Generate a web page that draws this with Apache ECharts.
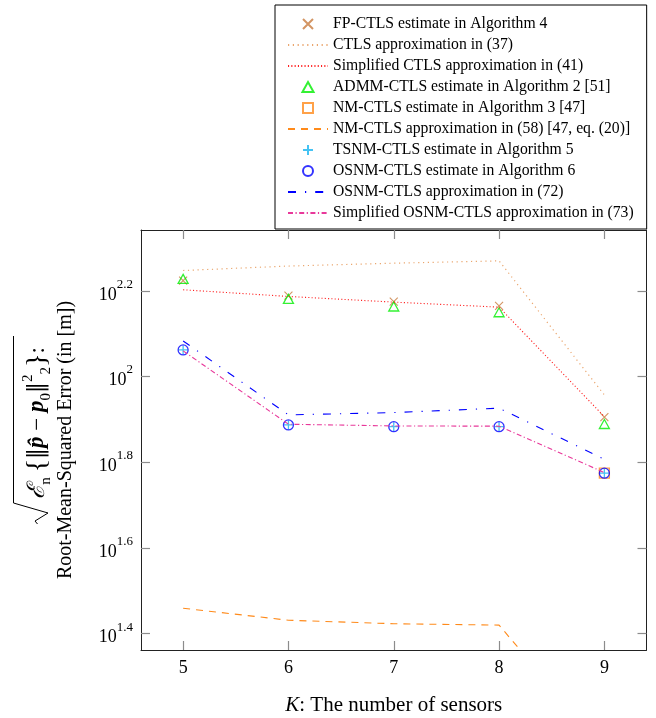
<!DOCTYPE html>
<html><head><meta charset="utf-8">
<script src="https://cdn.jsdelivr.net/npm/echarts@6/dist/echarts.min.js"></script>
<style>html,body{margin:0;padding:0;background:#fff}#c{width:656px;height:718px}</style>
</head><body><div id="c"></div>
<script>
// ---- data (RMSE in metres) ----
const sensors = [5, 6, 7, 8, 9];
const yTickExponents = [1.4, 1.6, 1.8, 2.0, 2.2];
const fpCtlsEstimate      = [167.5, 154.5, 149.6, 146.2, 80.4];
const ctlsApprox          = [176.8, 181.1, 183.9, 186.2, 90.6];
const simpCtlsApprox      = [159.4, 153.8, 149.2, 145.2, 80.6];
const admmCtlsEstimate    = [169.0, 151.8, 145.7, 141.3, 77.5];
const nmCtlsEstimate      = [null, null, null, null, 59.5];
const nmCtlsApprox        = [28.8, 27.0, 26.5, 26.3, 13.5];
const tsnmCtlsEstimate    = [115.4, 77.1, 76.4, 76.4, 59.5];
const osnmCtlsEstimate    = [115.4, 77.1, 76.4, 76.4, 59.5];
const osnmCtlsApprox      = [121.1, 81.4, 82.4, 84.4, 64.1];
const simpOsnmCtlsApprox  = [114.8, 77.4, 76.7, 76.6, 59.7];
const names = [
  'FP-CTLS estimate in Algorithm 4',
  'CTLS approximation in (37)',
  'Simplified CTLS approximation in (41)',
  'ADMM-CTLS estimate in Algorithm 2 [51]',
  'NM-CTLS estimate in Algorithm 3 [47]',
  'NM-CTLS approximation in (58) [47, eq. (20)]',
  'TSNM-CTLS estimate in Algorithm 5',
  'OSNM-CTLS estimate in Algorithm 6',
  'OSNM-CTLS approximation in (72)',
  'Simplified OSNM-CTLS approximation in (73)'
];
const lineSeriesIdx = [1, 2, 5, 8, 9];

const FONT = 'Liberation Serif';
const pair = arr => sensors.map((k, i) => [k, arr[i]]);
const yTicks = yTickExponents.map(e => Math.pow(10, e));
const xTicks = sensors.slice();

function scatter(name, arr, symbol, size, color, bw) {
  return { name, type: 'scatter', data: pair(arr), symbol, symbolSize: size, symbolKeepAspect: true,
    itemStyle: { color: 'rgba(0,0,0,0)', borderColor: color, borderWidth: bw || 1.1 },
    emphasis: { disabled: true }, clip: true };
}
function line(name, arr, color, dash, w) {
  return { name, type: 'line', data: pair(arr), symbol: 'none', showSymbol: false,
    lineStyle: { color, width: w || 1.1, type: dash }, itemStyle: { color },
    emphasis: { disabled: true }, clip: true, animation: false };
}

const tickStyle = { show: true, inside: true, length: 9, lineStyle: { color: '#8c8c8c', width: 1.2 } };
const frame = { show: true, onZero: false, lineStyle: { color: '#222', width: 1 } };
const LH1 = 33;

const option = {
  animation: false,
  backgroundColor: '#fff',
  grid: { left: 141, right: 9.5, top: 230, bottom: 68, outerBoundsMode: 'none', containLabel: false },
  legend: {
    orient: 'vertical', left: 275, top: 5,
    padding: [11, 13, 8, 12], itemGap: 5, itemWidth: 40, itemHeight: 10,
    borderColor: '#000', borderWidth: 1, backgroundColor: '#fff',
    textStyle: { fontFamily: FONT, fontSize: 15.7, color: '#000', lineHeight: 16 },
    data: names.map((n, i) => lineSeriesIdx.includes(i) ? { name: n, itemStyle: { opacity: 0 } } : n),
    selectedMode: false
  },
  graphic: [{
    type: 'polyline', silent: true,
    shape: { points: [[13.5, 336], [13.5, 503], [48, 513], [35, 521], [37.5, 524]] },
    style: { stroke: '#000', lineWidth: 1, fill: null }
  }],
  xAxis: [
    { type: 'value', min: 4.6, max: 9.4, position: 'bottom', axisLine: frame,
      axisTick: Object.assign({ customValues: xTicks }, tickStyle),
      axisLabel: { customValues: xTicks, fontFamily: FONT, fontSize: 18, color: '#000', margin: 9 },
      splitLine: { show: false },
      name: '{k|K}: The number of sensors', nameLocation: 'middle', nameGap: 45,
      nameTextStyle: { fontFamily: FONT, fontSize: 21, color: '#000',
        rich: { k: { fontFamily: FONT, fontSize: 21, fontStyle: 'italic', color: '#000' } } } },
    { type: 'value', min: 4.6, max: 9.4, position: 'top', axisLine: frame,
      axisTick: Object.assign({ customValues: xTicks }, tickStyle),
      axisLabel: { show: false }, splitLine: { show: false } }
  ],
  yAxis: [
    { type: 'log', logBase: 10, min: 23.01, max: 219.8, position: 'left', axisLine: frame,
      axisTick: Object.assign({ customValues: yTicks }, tickStyle),
      minorTick: { show: false }, splitLine: { show: false },
      axisLabel: { customValues: yTicks, margin: 8,
        formatter: v => { const e = Math.round(Math.log10(v) * 10) / 10; return '{b|10}{s|' + (Number.isInteger(e) ? e.toFixed(0) : e.toFixed(1)) + '}'; },
        rich: { b: { fontFamily: FONT, fontSize: 18, color: '#000', lineHeight: 26, verticalAlign: 'bottom' },
                s: { fontFamily: FONT, fontSize: 13, color: '#000', verticalAlign: 'top', lineHeight: 14 } } },
      name: '{gap| }{cal|ℰ}{sub|n}{sp| }{br|{}{nm|‖}{bp|p̂}{op| − }{bp|p}{sub|0}{nm|‖}{sup|2}{sub|2}}{op|:}\n{l2|Root-Mean-Squared Error (in [m])}',
      nameLocation: 'middle', nameRotate: 90, nameGap: 63,
      nameTextStyle: { fontFamily: FONT, fontSize: 28, color: '#000', lineHeight: LH1,
        rich: {
          gap: { width: 34, fontSize: 20, lineHeight: LH1 },
          sp: { fontFamily: FONT, fontSize: 20, lineHeight: LH1 },
          cal: { fontFamily: 'DejaVu Serif', fontSize: 24, fontStyle: 'italic', color: '#000', lineHeight: LH1 },
          sub: { fontFamily: FONT, fontSize: 15, color: '#000', verticalAlign: 'bottom', lineHeight: LH1 },
          sup: { fontFamily: FONT, fontSize: 15, color: '#000', verticalAlign: 'top', lineHeight: LH1 },
          br: { fontFamily: FONT, fontSize: 28, color: '#000', lineHeight: LH1 },
          nm: { fontFamily: 'DejaVu Serif', fontSize: 22, color: '#000', lineHeight: LH1 },
          op: { fontFamily: FONT, fontSize: 23, color: '#000', lineHeight: LH1 },
          bp: { fontFamily: FONT, fontSize: 23, fontStyle: 'italic', fontWeight: 'bold', color: '#000', lineHeight: LH1 },
          l2: { fontFamily: FONT, fontSize: 20, color: '#000', lineHeight: 24 }
        } } },
    { type: 'log', logBase: 10, min: 23.01, max: 219.8, position: 'right', axisLine: frame,
      axisTick: Object.assign({ customValues: yTicks }, tickStyle),
      minorTick: { show: false }, splitLine: { show: false },
      axisLabel: { show: false, customValues: yTicks } }
  ],
  series: [
    scatter(names[0], fpCtlsEstimate, 'path://M0,0L10,10M0,10L10,0', 8, '#c87a3c', 1.1),
    line(names[1], ctlsApprox, '#eaa66e', [1.2, 3.6], 1.2),
    line(names[2], simpCtlsApprox, '#ff2020', [1.1, 2.2], 1.1),
    scatter(names[3], admmCtlsEstimate, 'path://M5,0L10,9L0,9Z', 10, '#00ee00', 1.3),
    scatter(names[4], nmCtlsEstimate, 'path://M0,0L10,0L10,10L0,10Z', 10, '#ff8a1a', 1.3),
    line(names[5], nmCtlsApprox, '#ff8a1a', [7, 6], 1.1),
    scatter(names[6], tsnmCtlsEstimate, 'path://M5,0L5,10M0,5L10,5', 9, '#16b4f0', 1.3),
    scatter(names[7], osnmCtlsEstimate, 'circle', 10, '#0000ff', 1.3),
    line(names[8], osnmCtlsApprox, '#0000ff', [8, 9, 1.2, 9], 1.1),
    line(names[9], simpOsnmCtlsApprox, '#e8389a', [5, 2.5, 1.2, 2.5], 1.1)
  ].map(s => Object.assign(s, { xAxisIndex: 0, yAxisIndex: 0 }))
};
const chart = echarts.init(document.getElementById('c'), null, { renderer: 'canvas' });
chart.setOption(option);
</script>
</body></html>
